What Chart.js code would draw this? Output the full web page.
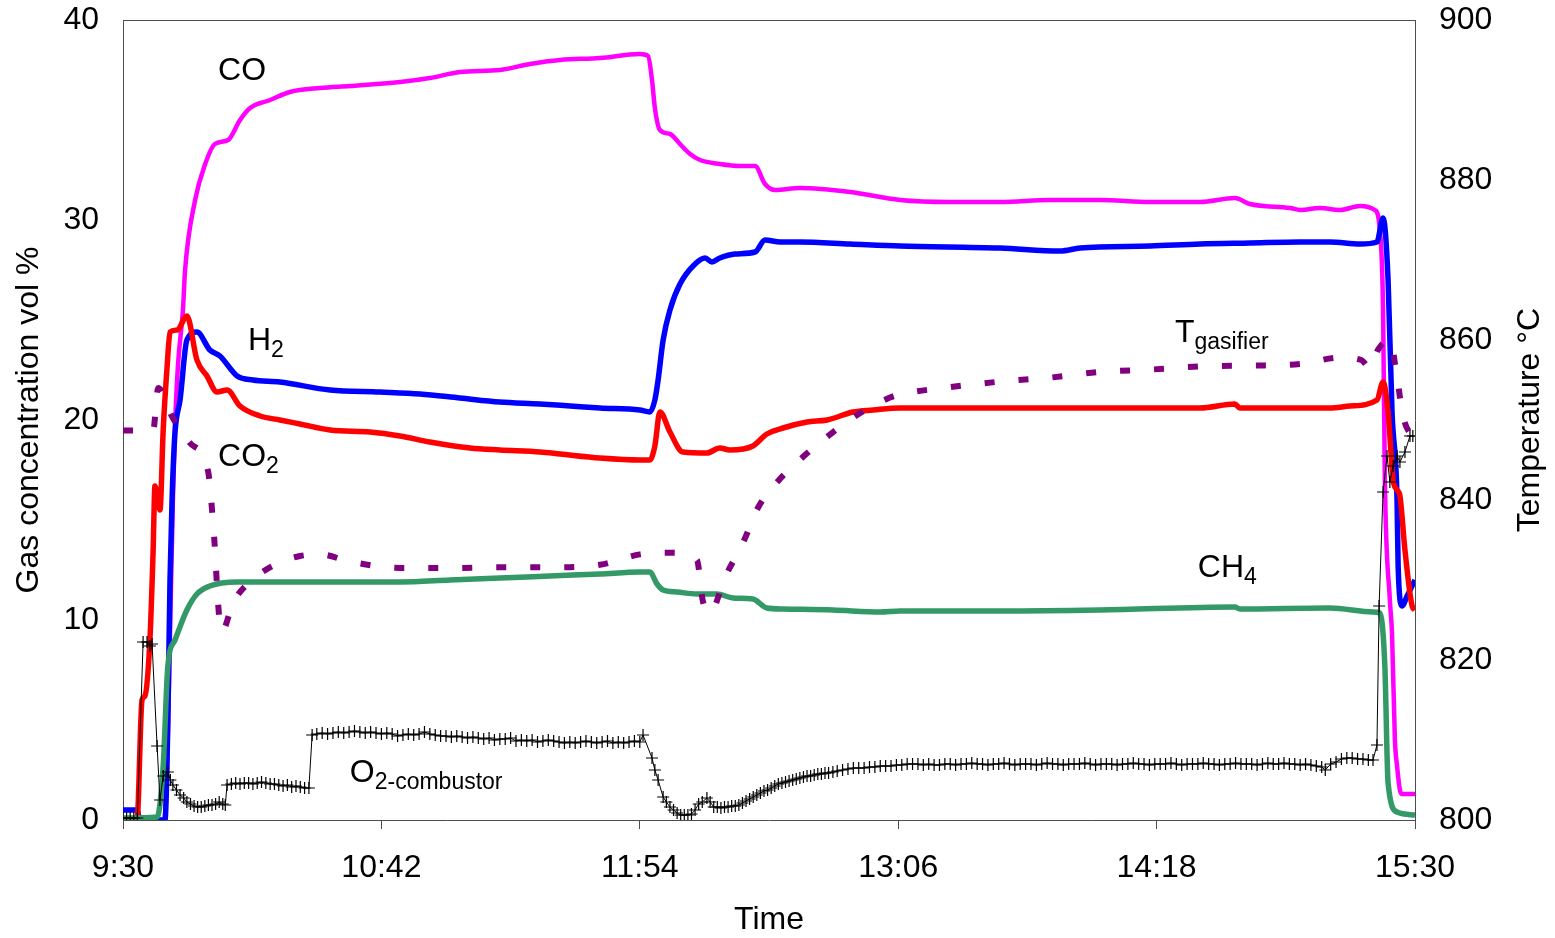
<!DOCTYPE html>
<html>
<head>
<meta charset="utf-8">
<script src="https://cdn.jsdelivr.net/npm/chart.js@4"></script>
<style>
  body { margin: 0; background: #fff; }
  canvas { display: block; }
</style>
</head>
<body>
<canvas id="js--chart" width="1555" height="938"></canvas>
<script>
// all times are minutes after 9:30
const tickStep = 72;

// CO (vol %)
const coTime = [0, 11.5, 12.3, 13.1, 13.9, 14.5, 15.3, 16.7, 17.3, 20.1, 22.9, 25.6, 29.3, 32.6, 35.4, 41, 46.5, 54.9, 63.3, 77.2, 85.5, 93.9, 105, 113.4, 121.8, 132.9, 144, 146.3, 147.4, 148.2, 149.6, 152.4, 155.2, 158, 160.8, 166.3, 171.9, 176.1, 178.9, 181.7, 188.6, 202.6, 216.5, 230.4, 244.4, 258.3, 272.2, 286.2, 300.1, 309.8, 314, 325.2, 328, 333.5, 339.1, 344.7, 348.8, 350.2, 351.1, 351.6, 353, 353.6, 354.4, 355, 355.8, 356.4, 360];
const coValue = [0, 0, 2.7, 9.3, 16, 19.7, 22.7, 25.5, 27.5, 31, 32.8, 33.8, 34, 35, 35.6, 36, 36.4, 36.6, 36.7, 36.9, 37.1, 37.4, 37.5, 37.8, 38, 38.1, 38.3, 38.2, 37, 35.6, 34.5, 34.3, 33.8, 33.3, 33, 32.8, 32.7, 32.7, 31.8, 31.5, 31.6, 31.4, 31, 30.9, 30.9, 31, 31, 30.9, 30.9, 31.1, 30.8, 30.6, 30.5, 30.6, 30.5, 30.7, 30.5, 29.5, 25.5, 17, 11, 9.3, 4, 2.7, 1.5, 1.3, 1.3];

// H2 (vol %)
const h2Time = [0, 3.9, 4.7, 11.7, 12.5, 13.1, 13.7, 14.5, 15.9, 17.8, 20.6, 24.2, 27, 31.8, 36.2, 43.7, 57.7, 71.6, 82.8, 93.9, 105, 116.2, 124.6, 132.9, 144, 146.8, 148.2, 149.1, 150.5, 152.4, 155.2, 159.4, 162.2, 164.1, 166.3, 170.5, 176.1, 178.9, 183.1, 188.6, 202.6, 216.5, 244.4, 261.1, 266.7, 286.2, 300.1, 314, 328, 336.3, 344.7, 349.4, 351.1, 352.5, 353.6, 355, 355.3, 356.4, 357.8, 360];
const h2Value = [0.5, 0.5, 0, 0, 5, 12, 16.2, 19.4, 21, 24, 24.4, 23.5, 23.2, 22.2, 22, 21.9, 21.5, 21.4, 21.3, 21.1, 20.9, 20.8, 20.7, 20.6, 20.5, 20.4, 21, 22, 24, 25.5, 26.8, 27.8, 28.1, 27.9, 28.1, 28.3, 28.4, 29, 28.9, 28.9, 28.8, 28.7, 28.6, 28.45, 28.6, 28.7, 28.8, 28.85, 28.9, 28.9, 28.8, 28.9, 30.1, 27, 20.4, 16, 12.7, 10.7, 11.2, 12];

// CO2 (vol %)
const co2Time = [0, 3.9, 5.3, 6.1, 7.5, 8.4, 8.9, 10.3, 11.2, 12.3, 13.1, 15.1, 17.8, 20.6, 23.4, 26.2, 29, 32.6, 38.2, 43.7, 49.3, 57.7, 68.8, 77.2, 85.5, 96.7, 105, 116.2, 121.8, 132.9, 144, 146.8, 148.2, 149.6, 152.4, 156, 162.7, 166.3, 169.1, 175.5, 179.4, 183.9, 190.6, 196.2, 203.4, 209, 216.5, 244.4, 272.2, 300.1, 309.8, 311.2, 328, 336.3, 341.9, 349.4, 351.1, 352.5, 353.9, 355, 355.8, 357.2, 359.2, 360];
const co2Value = [0, 0, 6, 6.2, 9, 13.5, 16.7, 15.5, 19.5, 22.7, 24.4, 24.5, 25.2, 23, 22.2, 21.4, 21.5, 20.7, 20.2, 20, 19.8, 19.5, 19.4, 19.2, 18.9, 18.6, 18.5, 18.4, 18.3, 18.1, 18, 18, 18.7, 20.4, 19.4, 18.4, 18.35, 18.6, 18.5, 18.7, 19.3, 19.6, 19.9, 20, 20.4, 20.5, 20.6, 20.6, 20.6, 20.6, 20.8, 20.6, 20.6, 20.6, 20.7, 21, 21.9, 20.4, 17, 16.5, 16.2, 13.5, 10.7, 10.5];

// CH4 (vol %)
const ch4Time = [0, 9.5, 11.2, 12.5, 14.5, 17.8, 20.6, 24.2, 31.8, 43.7, 77.2, 91.1, 105, 119, 132.9, 144, 146.8, 148.8, 150.5, 154.4, 159.9, 165.5, 170, 175.5, 179.4, 183.9, 197.8, 210.9, 216.5, 244.4, 272.2, 309.8, 311.2, 336.3, 348.3, 350.2, 351.6, 352.5, 355, 360];
const ch4Value = [0.1, 0.15, 2.7, 7.7, 9, 10.5, 11.3, 11.7, 11.9, 11.9, 11.9, 12, 12.1, 12.2, 12.3, 12.4, 12.4, 11.8, 11.5, 11.4, 11.3, 11.3, 11.1, 11.05, 10.6, 10.55, 10.5, 10.4, 10.45, 10.45, 10.5, 10.65, 10.55, 10.6, 10.4, 10.35, 7.7, 1.85, 0.4, 0.25];

// T gasifier (deg C)
const tempTime = [0, 8.4, 9.8, 13.7, 18.7, 23.7, 24.8, 25.6, 26.2, 27, 27.6, 30.7, 36.8, 43.7, 49.3, 54.9, 63.3, 77.2, 91.1, 105, 119, 132.9, 144, 152.4, 159.9, 161.6, 163.6, 167.7, 172.8, 176.9, 182.2, 189.5, 197.6, 205.9, 213.7, 216.5, 230.4, 244.4, 258.3, 272.2, 286.2, 300.1, 314, 328, 339.1, 345, 347.5, 349.7, 353, 355, 356.7, 360];
const tempValue = [848.7, 848.7, 854, 850.4, 847.1, 843.6, 838.8, 834, 829.2, 824.4, 823.6, 827.2, 830.3, 832.2, 833, 833.2, 832.3, 831.5, 831.5, 831.6, 831.6, 831.9, 833.2, 833.4, 832.5, 827.3, 825.9, 830.3, 834.7, 839, 842.2, 845.4, 848.4, 851, 852.8, 853.2, 854.1, 854.8, 855.3, 856, 856.3, 856.7, 856.8, 857, 857.8, 857.5, 856.5, 858.8, 860, 855.3, 850.4, 847.5];

// O2 after combustor (vol %)
const o2Time = [
  0, 1, 2, 3, 4, 5.6, 6.7, 7.5, 8.1, 9.5, 10.3, 11.2, 12.5, 13.2, 13.9, 14.9, 15.9, 16.9, 17.8, 18.8,
  19.8, 20.8, 21.8, 22.8, 23.8, 24.8, 25.8, 26.8, 27.8, 28.5, 29, 30.2, 31.4, 32.6, 33.8, 35, 36.2, 37.4, 38.6, 39.8,
  41, 42.2, 43.4, 44.6, 45.8, 47, 48.2, 49.4, 50.6, 51.8, 52.7, 54, 55.5, 57, 58.5, 60, 61.5, 63, 64.5, 66,
  67.5, 69, 70.5, 72, 73.5, 75, 76.5, 78, 79.5, 81, 82.5, 84, 85.5, 87, 88.5, 90, 91.5, 93, 94.5, 96,
  97.5, 99, 100.5, 102, 103.5, 105, 106.5, 108, 109.5, 111, 112.5, 114, 115.5, 117, 118.5, 120, 121.5, 123, 124.5, 126,
  127.5, 129, 130.5, 132, 133.5, 135, 136.5, 138, 139.5, 141, 142.5, 144, 144.9, 147.4, 148.2, 149.1, 150.5, 151.4, 152.4, 153.4,
  154.4, 155.4, 156.4, 157.4, 158.4, 159.4, 160.4, 161.4, 162.7, 163.6, 164.6, 165.6, 166.6, 167.6, 168.6, 169.6, 170.6, 171.6, 172.6, 173.6,
  174.6, 175.6, 176.6, 177.6, 178.6, 179.6, 180.6, 181.6, 182.6, 183.6, 184.6, 185.6, 186.6, 187.6, 188.6, 189.6, 190.6, 191.6, 192.6, 193.6,
  194.6, 195.6, 196.6, 197.8, 199, 200.5, 202, 203.5, 205, 206.5, 208, 209.5, 211, 212.5, 214, 215.5, 217, 218.5, 220, 221.5,
  223, 224.5, 226, 227.5, 229, 230.5, 232, 233.5, 235, 236.5, 238, 239.5, 241, 242.5, 244, 245.5, 247, 248.5, 250, 251.5,
  253, 254.5, 256, 257.5, 259, 260.5, 262, 263.5, 265, 266.5, 268, 269.5, 271, 272.5, 274, 275.5, 277, 278.5, 280, 281.5,
  283, 284.5, 286, 287.5, 289, 290.5, 292, 293.5, 295, 296.5, 298, 299.5, 301, 302.5, 304, 305.5, 307, 308.5, 310, 311.5,
  313, 314.5, 316, 317.5, 319, 320.5, 322, 323.5, 325, 326.5, 328, 329.5, 331, 332.5, 334, 335, 336.5, 338, 339.5, 341,
  342.5, 344, 345.5, 347, 348.3, 349.4, 350, 351.1, 352.2, 353, 353.9, 355, 355.8, 357.2, 358.6, 359.4
];
const o2Value = [
  0.1, 0.1, 0.1, 0.1, 0.1, 8.9, 8.9, 8.7, 8.8, 3.7, 1.0, 2.2, 2.4, 2.0, 1.75, 1.5, 1.25, 1.1, 0.9, 0.8,
  0.7, 0.65, 0.65, 0.7, 0.75, 0.75, 0.8, 0.9, 0.8, 0.75, 1.75, 1.8, 1.85, 1.8, 1.85, 1.85, 1.8, 1.85, 1.9, 1.85,
  1.8, 1.8, 1.75, 1.7, 1.75, 1.65, 1.7, 1.65, 1.6, 1.6, 4.25, 4.3, 4.35, 4.3, 4.35, 4.4, 4.35, 4.4, 4.45, 4.4,
  4.35, 4.4, 4.35, 4.3, 4.35, 4.3, 4.2, 4.25, 4.3, 4.25, 4.3, 4.4, 4.3, 4.25, 4.2, 4.2, 4.15, 4.2, 4.15, 4.1,
  4.15, 4.1, 4.05, 4.1, 4.0, 4.05, 4.05, 4.1, 3.95, 4.0, 3.95, 4.0, 3.9, 3.95, 4.0, 3.95, 3.9, 3.85, 3.9, 3.85,
  3.9, 3.95, 3.9, 3.85, 3.9, 3.95, 3.85, 3.9, 3.85, 3.9, 3.95, 3.9, 4.25, 3.1, 2.5, 2.0, 1.15, 0.9, 0.65, 0.5,
  0.35, 0.25, 0.25, 0.25, 0.3, 0.5, 0.8, 0.9, 1.1, 0.9, 0.65, 0.65, 0.6, 0.65, 0.65, 0.7, 0.7, 0.75, 0.85, 0.95,
  1.05, 1.15, 1.25, 1.35, 1.45, 1.5, 1.6, 1.7, 1.8, 1.85, 1.9, 1.95, 2.0, 2.05, 2.1, 2.15, 2.2, 2.2, 2.25, 2.3,
  2.3, 2.35, 2.35, 2.4, 2.45, 2.5, 2.55, 2.6, 2.6, 2.6, 2.65, 2.65, 2.7, 2.7, 2.7, 2.75, 2.75, 2.8, 2.8, 2.8,
  2.75, 2.8, 2.75, 2.75, 2.8, 2.8, 2.75, 2.8, 2.8, 2.85, 2.8, 2.8, 2.75, 2.8, 2.8, 2.85, 2.8, 2.75, 2.8, 2.8,
  2.8, 2.75, 2.8, 2.85, 2.8, 2.8, 2.75, 2.8, 2.8, 2.8, 2.85, 2.8, 2.75, 2.8, 2.8, 2.8, 2.75, 2.8, 2.8, 2.85,
  2.8, 2.8, 2.75, 2.8, 2.8, 2.8, 2.85, 2.8, 2.75, 2.8, 2.8, 2.8, 2.85, 2.8, 2.8, 2.75, 2.8, 2.8, 2.85, 2.8,
  2.8, 2.8, 2.75, 2.8, 2.85, 2.8, 2.8, 2.85, 2.8, 2.8, 2.75, 2.8, 2.75, 2.7, 2.65, 2.5, 2.8, 2.9, 3.05, 3.1,
  3.1, 3.05, 3.05, 3.0, 3.0, 3.75, 10.7, 16.4, 18.2, 16.9, 17.7, 18.2, 17.9, 18.4, 19.2, 19.2
];

// curve labels: main text, subscript, anchor (minutes, vol %)
const notes = [
  { text: 'CO', sub: '', t: 26.5, v: 37.0 },
  { text: 'H', sub: '2', t: 34.8, v: 23.5 },
  { text: 'CO', sub: '2', t: 26.5, v: 17.7 },
  { text: 'CH', sub: '4', t: 299.5, v: 12.15 },
  { text: 'T', sub: 'gasifier', t: 293.1, v: 23.9 },
  { text: 'O', sub: '2-combustor', t: 63.2, v: 1.9 }
];

const FONT = 'Liberation Sans, Arial, sans-serif';
const axisColor = '#4d4d4d';

function pairs(xs, ys) {
  return xs.map((x, i) => ({ x: x, y: ys[i] }));
}

function clock(min) {
  const total = 9 * 60 + 30 + Math.round(min);
  const h = Math.floor(total / 60);
  const m = total % 60;
  return h + ':' + String(m).padStart(2, '0');
}

const labelPlugin = {
  id: 'curveLabels',
  afterDatasetsDraw(chart) {
    const ctx = chart.ctx;
    const xs = chart.scales.x;
    const ys = chart.scales.y;
    ctx.save();
    ctx.fillStyle = '#000';
    ctx.textBaseline = 'alphabetic';
    ctx.textAlign = 'left';
    notes.forEach(n => {
      const px = xs.getPixelForValue(n.t);
      const py = ys.getPixelForValue(n.v);
      ctx.font = '32px ' + FONT;
      ctx.fillText(n.text, px, py);
      if (n.sub) {
        const w = ctx.measureText(n.text).width;
        ctx.font = '23px ' + FONT;
        ctx.fillText(n.sub, px + w, py + 7);
      }
    });
    ctx.restore();
  }
};

// top edge of the plot box + right axis title (reads bottom to top, like the left one)
const framePlugin = {
  id: 'frame',
  afterDraw(chart) {
    const a = chart.chartArea;
    const ctx = chart.ctx;
    ctx.save();
    ctx.strokeStyle = axisColor;
    ctx.lineWidth = 1;
    ctx.beginPath();
    ctx.moveTo(a.left, a.top + 0.5);
    ctx.lineTo(a.right, a.top + 0.5);
    ctx.stroke();

    ctx.translate(chart.width - 25, (a.top + a.bottom) / 2);
    ctx.rotate(-Math.PI / 2);
    ctx.font = '32px ' + FONT;
    ctx.fillStyle = '#000';
    ctx.textAlign = 'center';
    ctx.textBaseline = 'middle';
    ctx.fillText('Temperature °C', 0, 0);
    ctx.restore();
  }
};

const tickFont = { family: FONT, size: 32 };

const config = {
  type: 'line',
  data: {
    datasets: [
      {
        label: 'O2-combustor',
        data: pairs(o2Time, o2Value),
        borderColor: '#000',
        backgroundColor: '#000',
        borderWidth: 1,
        pointStyle: 'cross',
        pointRadius: 6,
        pointBorderWidth: 1.2,
        yAxisID: 'y'
      },
      {
        label: 'T gasifier',
        data: pairs(tempTime, tempValue),
        borderColor: '#800080',
        borderWidth: 6,
        borderDash: [10, 24],
        borderCapStyle: 'butt',
        pointRadius: 0,
        cubicInterpolationMode: 'monotone',
        yAxisID: 'y1'
      },
      {
        label: 'CH4',
        data: pairs(ch4Time, ch4Value),
        borderColor: '#339966',
        borderWidth: 5.5,
        pointRadius: 0,
        cubicInterpolationMode: 'monotone',
        yAxisID: 'y'
      },
      {
        label: 'CO2',
        data: pairs(co2Time, co2Value),
        borderColor: '#ff0000',
        borderWidth: 5.5,
        pointRadius: 0,
        cubicInterpolationMode: 'monotone',
        yAxisID: 'y'
      },
      {
        label: 'H2',
        data: pairs(h2Time, h2Value),
        borderColor: '#0000ff',
        borderWidth: 5.5,
        pointRadius: 0,
        cubicInterpolationMode: 'monotone',
        yAxisID: 'y'
      },
      {
        label: 'CO',
        data: pairs(coTime, coValue),
        borderColor: '#ff00ff',
        borderWidth: 4.5,
        pointRadius: 0,
        cubicInterpolationMode: 'monotone',
        yAxisID: 'y'
      }
    ]
  },
  options: {
    responsive: false,
    animation: false,
    layout: { padding: { top: 20, left: 0, right: 0, bottom: 0 } },
    plugins: {
      legend: { display: false },
      tooltip: { enabled: false }
    },
    scales: {
      x: {
        type: 'linear',
        min: 0,
        max: 360,
        ticks: { stepSize: tickStep, callback: v => clock(v), font: tickFont, color: '#000', padding: 20, maxRotation: 0, autoSkip: false },
        grid: { drawOnChartArea: false, tickLength: 9, color: axisColor },
        border: { color: axisColor },
        title: { display: true, text: 'Time', font: { family: FONT, size: 32, lineHeight: 1.1 }, color: '#000', padding: 0 },
        afterFit(s) { s.height = 118; s.paddingLeft = 0; s.paddingRight = 0; }
      },
      y: {
        position: 'left',
        min: 0,
        max: 40,
        ticks: { stepSize: 10, font: tickFont, color: '#000', padding: 24 },
        grid: { drawOnChartArea: false, drawTicks: false },
        border: { color: axisColor },
        title: { display: true, text: 'Gas concentration vol %', font: tickFont, color: '#000', padding: { top: 10 } },
        afterFit(s) { s.width = 123; s.paddingTop = 0; s.paddingBottom = 0; }
      },
      y1: {
        position: 'right',
        min: 800,
        max: 900,
        ticks: { stepSize: 20, font: tickFont, color: '#000', padding: 24 },
        grid: { drawOnChartArea: false, drawTicks: false },
        border: { color: axisColor },
        afterFit(s) { s.width = 140; s.paddingTop = 0; s.paddingBottom = 0; }
      }
    }
  },
  plugins: [labelPlugin, framePlugin]
};

const chart1 = new Chart(document.getElementById('js--chart'), config);
</script>
</body>
</html>
